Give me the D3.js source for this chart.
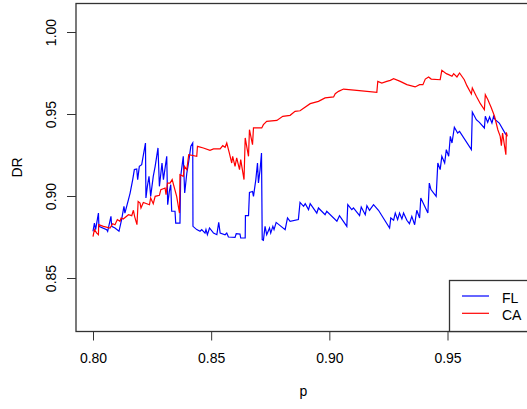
<!DOCTYPE html>
<html>
<head>
<meta charset="utf-8">
<script src="https://cdn.jsdelivr.net/npm/d3@7"></script>
<style>
  body { margin: 0; background: #fff; }
  text { font-family: "Liberation Sans", Arial, sans-serif; fill: #000; }
</style>
</head>
<body>
<script>
// FL series (blue)
var flP = [0.8000,0.8006,0.8011,0.8023,0.8025,0.8058,0.8062,0.8076,0.8079,0.8093,0.8110,0.8121,0.8131,0.8135,0.8150,0.8157,0.8168,0.8175,0.8185,0.8189,0.8196,0.8206,0.8222,0.8224,0.8230,0.8237,0.8244,0.8255,0.8263,0.8275,0.8281,0.8292,0.8298,0.8312,0.8316,0.8323,0.8329,0.8333,0.8347,0.8350,0.8368,0.8371,0.8382,0.8388,0.8397,0.8404,0.8414,0.8422,0.8423,0.8439,0.8453,0.8460,0.8474,0.8478,0.8484,0.8493,0.8510,0.8524,0.8532,0.8538,0.8559,0.8566,0.8573,0.8601,0.8606,0.8622,0.8625,0.8644,0.8645,0.8658,0.8662,0.8675,0.8679,0.8689,0.8696,0.8700,0.8707,0.8713,0.8716,0.8721,0.8728,0.8735,0.8747,0.8752,0.8761,0.8766,0.8775,0.8813,0.8823,0.8834,0.8869,0.8876,0.8891,0.8898,0.8912,0.8919,0.8947,0.8954,0.8982,0.8989,0.9032,0.9043,0.9074,0.9078,0.9095,0.9102,0.9128,0.9135,0.9152,0.9159,0.9170,0.9187,0.9208,0.9255,0.9260,0.9272,0.9279,0.9289,0.9297,0.9307,0.9314,0.9328,0.9339,0.9349,0.9361,0.9370,0.9382,0.9387,0.9417,0.9423,0.9430,0.9452,0.9459,0.9469,0.9476,0.9488,0.9495,0.9505,0.9512,0.9519,0.9529,0.9543,0.9551,0.9601,0.9605,0.9622,0.9635,0.9656,0.9660,0.9670,0.9678,0.9688,0.9695,0.9702,0.9719,0.9747];
var flDR = [0.8785,0.8835,0.8795,0.8896,0.8815,0.8795,0.8785,0.8876,0.8815,0.8805,0.8785,0.8856,0.8937,0.8896,0.8978,0.9018,0.9100,0.9161,0.9165,0.9100,0.9181,0.9191,0.9323,0.8988,0.9059,0.9120,0.8998,0.9120,0.9181,0.9293,0.9059,0.9201,0.9100,0.9242,0.8947,0.9028,0.9069,0.8907,0.8907,0.8835,0.8835,0.9120,0.9242,0.9018,0.9140,0.9201,0.9303,0.9323,0.8815,0.8795,0.8785,0.8795,0.8774,0.8795,0.8764,0.8805,0.8774,0.8764,0.8839,0.8774,0.8764,0.8774,0.8750,0.8748,0.8770,0.8768,0.8744,0.8744,0.8880,0.8880,0.9022,0.9028,0.8998,0.9100,0.9201,0.9079,0.9161,0.9262,0.8734,0.8730,0.8815,0.8764,0.8805,0.8774,0.8815,0.8795,0.8839,0.8795,0.8866,0.8846,0.8856,0.8961,0.8937,0.8953,0.8917,0.8953,0.8896,0.8927,0.8886,0.8907,0.8846,0.8880,0.8815,0.8947,0.8917,0.8927,0.8880,0.8933,0.8886,0.8941,0.8913,0.8947,0.8913,0.8805,0.8866,0.8852,0.8896,0.8856,0.8896,0.8860,0.8896,0.8852,0.8831,0.8876,0.8825,0.8913,0.8866,0.8988,0.8896,0.9079,0.9039,0.8998,0.9201,0.9161,0.9242,0.9201,0.9283,0.9242,0.9364,0.9323,0.9419,0.9384,0.9394,0.9283,0.9512,0.9465,0.9449,0.9415,0.9486,0.9449,0.9482,0.9445,0.9486,0.9465,0.9445,0.9374];

// CA series (red)
var caP = [0.8000,0.8006,0.8016,0.8023,0.8024,0.8044,0.8072,0.8083,0.8093,0.8103,0.8114,0.8119,0.8128,0.8150,0.8164,0.8171,0.8176,0.8186,0.8191,0.8199,0.8203,0.8213,0.8239,0.8244,0.8255,0.8263,0.8281,0.8287,0.8305,0.8309,0.8315,0.8326,0.8335,0.8354,0.8366,0.8368,0.8382,0.8387,0.8397,0.8405,0.8439,0.8442,0.8467,0.8495,0.8510,0.8538,0.8549,0.8559,0.8566,0.8577,0.8587,0.8591,0.8601,0.8608,0.8620,0.8625,0.8639,0.8644,0.8658,0.8662,0.8675,0.8679,0.8714,0.8721,0.8735,0.8778,0.8803,0.8834,0.8855,0.8876,0.8919,0.8954,0.8982,0.9018,0.9025,0.9039,0.9060,0.9116,0.9201,0.9205,0.9222,0.9243,0.9258,0.9272,0.9300,0.9328,0.9363,0.9382,0.9396,0.9406,0.9420,0.9431,0.9469,0.9476,0.9495,0.9505,0.9519,0.9526,0.9540,0.9551,0.9571,0.9582,0.9601,0.9605,0.9622,0.9639,0.9656,0.9660,0.9671,0.9678,0.9684,0.9699,0.9713,0.9723,0.9728,0.9733,0.9747,0.9749,0.9753];
var caDR = [0.8752,0.8795,0.8774,0.8764,0.8825,0.8815,0.8805,0.8831,0.8825,0.8856,0.8846,0.8866,0.8860,0.8886,0.8880,0.8913,0.8876,0.8825,0.8967,0.8957,0.8927,0.8961,0.8947,0.8988,0.8953,0.8998,0.9004,0.9039,0.9049,0.9008,0.9079,0.9079,0.9100,0.8998,0.8896,0.9130,0.9120,0.9181,0.9161,0.9252,0.9242,0.9303,0.9293,0.9278,0.9287,0.9287,0.9307,0.9297,0.9323,0.9262,0.9201,0.9242,0.9181,0.9232,0.9161,0.9222,0.9100,0.9354,0.9242,0.9404,0.9313,0.9415,0.9415,0.9435,0.9455,0.9461,0.9486,0.9492,0.9516,0.9520,0.9563,0.9577,0.9598,0.9604,0.9624,0.9638,0.9652,0.9644,0.9632,0.9699,0.9689,0.9699,0.9705,0.9715,0.9699,0.9679,0.9665,0.9679,0.9679,0.9713,0.9726,0.9713,0.9709,0.9766,0.9746,0.9740,0.9730,0.9746,0.9726,0.9750,0.9709,0.9673,0.9622,0.9659,0.9608,0.9563,0.9526,0.9618,0.9587,0.9563,0.9543,0.9486,0.9404,0.9364,0.9307,0.9384,0.9252,0.9388,0.9364];

var xTicks = [0.80, 0.85, 0.90, 0.95];
var yTicks = [0.85, 0.90, 0.95, 1.00];
var legendNames = ['FL', 'CA'];
var legendColors = ['blue', 'red'];

var width = 527, height = 409;
var box = {left: 76, top: 3.5, right: 531, bottom: 331.5};

var svg = d3.select('body')
  .append('svg')
  .attr('width', width)
  .attr('height', height);

var x = d3.scaleLinear().domain([0.80, 0.95]).range([93, 447.5]);
var y = d3.scaleLinear().domain([0.85, 1.00]).range([278, 32]);

var line = d3.line()
  .x(function(d){ return x(d[0]); })
  .y(function(d){ return y(d[1]); });

var flData = flP.map(function(p, i){ return [p, flDR[i]]; });
var caData = caP.map(function(p, i){ return [p, caDR[i]]; });

svg.append('path')
  .datum(flData)
  .attr('d', line)
  .attr('fill', 'none')
  .attr('stroke', 'blue')
  .attr('stroke-width', 1.2);

svg.append('path')
  .datum(caData)
  .attr('d', line)
  .attr('fill', 'none')
  .attr('stroke', 'red')
  .attr('stroke-width', 1.2);

// plot box
svg.append('rect')
  .attr('x', box.left)
  .attr('y', box.top)
  .attr('width', box.right - box.left)
  .attr('height', box.bottom - box.top)
  .attr('fill', 'none')
  .attr('stroke', '#333')
  .attr('stroke-width', 1.3);

// axes
var xAxis = d3.axisBottom(x).tickValues(xTicks).tickFormat(d3.format('.2f')).tickSize(9).tickPadding(13);
var gx = svg.append('g')
  .attr('transform', 'translate(0,' + box.bottom + ')')
  .call(xAxis);
gx.select('.domain').remove();
gx.selectAll('line').attr('stroke', '#333');
gx.selectAll('text').style('font-size', '14px').attr('fill', '#000');

var yAxis = d3.axisLeft(y).tickValues(yTicks).tickFormat(d3.format('.2f')).tickSize(9);
var gy = svg.append('g')
  .attr('transform', 'translate(' + box.left + ',0)')
  .call(yAxis);
gy.select('.domain').remove();
gy.selectAll('line').attr('stroke', '#333');
gy.selectAll('text')
  .style('font-size', '14px')
  .attr('fill', '#000')
  .attr('x', null).attr('dy', null)
  .attr('text-anchor', 'middle')
  .attr('transform', function(d){ return 'translate(-20,' + y(d) + ') rotate(-90)'; })
  .attr('y', 0);
// gy tick groups already translated by y; reset text transform relative to group
gy.selectAll('.tick text')
  .attr('transform', 'translate(-20,0) rotate(-90)');

// axis titles
svg.append('text')
  .attr('x', (box.left + box.right) / 2)
  .attr('y', 396)
  .attr('text-anchor', 'middle')
  .style('font-size', '14px')
  .text('p');

svg.append('text')
  .attr('transform', 'translate(21.5,' + ((box.top + box.bottom) / 2) + ') rotate(-90)')
  .attr('text-anchor', 'middle')
  .style('font-size', '14px')
  .text('DR');

// legend
var lg = svg.append('g');
lg.append('rect')
  .attr('x', 449.5)
  .attr('y', 280.5)
  .attr('width', 100)
  .attr('height', box.bottom - 280.5)
  .attr('fill', '#fff')
  .attr('stroke', '#333')
  .attr('stroke-width', 1.3);

legendNames.forEach(function(name, i){
  var ly = 296 + i * 17.3;
  lg.append('line')
    .attr('x1', 462).attr('x2', 489)
    .attr('y1', ly).attr('y2', ly)
    .attr('stroke', legendColors[i])
    .attr('stroke-width', 1.2);
  lg.append('text')
    .attr('x', 502)
    .attr('y', ly + 6.5)
    .style('font-size', '14px')
    .text(name);
});
</script>
</body>
</html>
